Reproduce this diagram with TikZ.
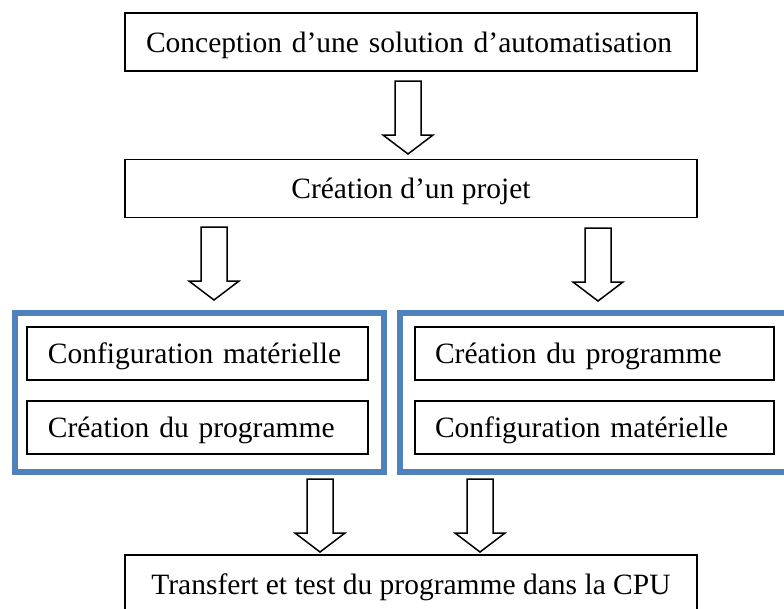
\documentclass[tikz,border=0pt]{standalone}
\usepackage{fontspec}
\setmainfont{Liberation Serif}
\definecolor{frameblue}{RGB}{79,129,189}
\begin{document}
\begin{tikzpicture}[x=1pt,y=-1pt,
  txt/.style={font=\fontsize{29.5}{34}\selectfont, text height=21pt, text depth=1pt, inner ysep=0pt},
  bigbox/.style={txt, draw=black, line width=1.5pt, minimum height=58pt},
  leftbox/.style={bigbox, text width=530pt, inner xsep=21pt, align=left},
  midbox/.style={bigbox, minimum width=572pt, inner xsep=0pt, align=center},
  inbox/.style={txt, draw=black, line width=1.5pt, minimum height=53pt, align=left},
  frame/.style={draw=frameblue, line width=6pt, inner sep=0pt, minimum height=159pt},
  hollow/.pic={\draw[black, line width=1.5pt, fill=white, line join=miter]
     (-13,0) -- (-13,54) -- (-25,54) -- (0,73) -- (25,54) -- (13,54) -- (13,0) -- cycle;}
]
\useasboundingbox (0,0) rectangle (784,608);
\clip (0,0) rectangle (784,608);
\fill[white] (0,0) rectangle (784,608);

% main boxes
\node[leftbox] (concept) at (411,42) {Conception d’une solution d’automatisation};
\node[midbox] (projet) at (411,188.5) {Création d’un projet};
\node[midbox] (transfert) at (411,584) {Transfert et test du programme dans la CPU};

% blue frames
\node[frame, minimum width=369pt] (groupA) at (199.2,392.5) {};
\node[frame, minimum width=390pt] (groupB) at (595,392.5) {};

% inner boxes
\node[inbox, text width=299pt, inner xsep=21pt] (configA) at (197.4,353.5) {Configuration matérielle};
\node[inbox, text width=299pt, inner xsep=21pt] (progA) at (197.4,427.5) {Création du programme};
\node[inbox, text width=319pt, inner xsep=20pt] (progB) at (594.5,353.5) {Création du programme};
\node[inbox, text width=319pt, inner xsep=20pt] (configB) at (594.5,427.5) {Configuration matérielle};

% hollow arrows
\coordinate (a1) at (408,81);
\coordinate (a2) at (214,227);
\coordinate (a3) at (598,228);
\coordinate (a4) at (320,479);
\coordinate (a5) at (480,479);
\pic at (a1) {hollow};
\pic at (a2) {hollow};
\pic at (a3) {hollow};
\pic at (a4) {hollow};
\pic at (a5) {hollow};
\end{tikzpicture}
\end{document}
